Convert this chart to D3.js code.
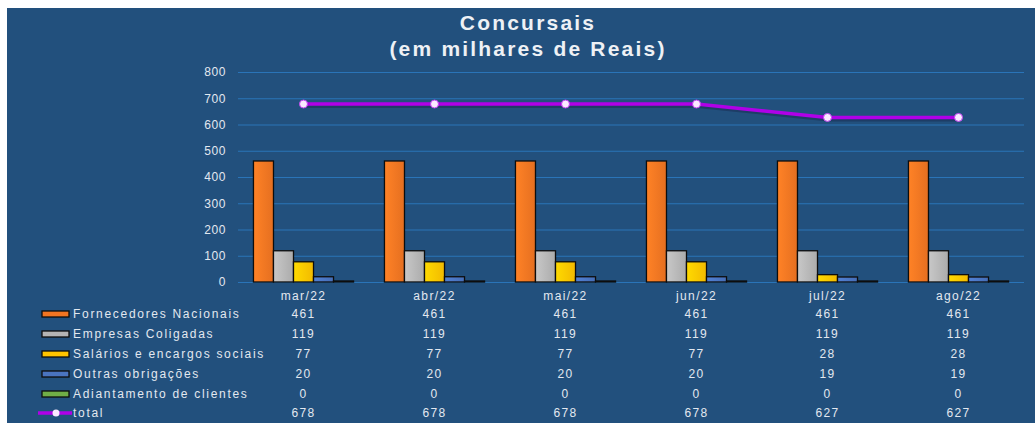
<!DOCTYPE html>
<html>
<head>
<meta charset="utf-8">
<script src="https://cdn.jsdelivr.net/npm/d3@7"></script>
<style>
    body { margin: 0; background: #fff; }
    svg { display: block; font-family: "Liberation Sans", Arial, sans-serif; }
    .grid line { stroke: #2a74b8; stroke-width: 1.2; }
    .grid path { display: none; }
    .tick text { fill: #e2e8f0; font-size: 12px; letter-spacing: 0.6px; }
    .cell { fill: #e2e8f0; font-size: 12px; letter-spacing: 1.4px; text-anchor: middle; }
    .legendText { fill: #e2e8f0; font-size: 12px; letter-spacing: 1.7px; }
</style>
</head>
<body>
<div id="chart"></div>
<script>
(function () {

    // data
    var months = ['mar/22', 'abr/22', 'mai/22', 'jun/22', 'jul/22', 'ago/22'];

    var series = ['Fornecedores Nacionais', 'Empresas Coligadas', 'Salários e encargos sociais',
        'Outras obrigações', 'Adiantamento de clientes'];

    var fornecedores = [461, 461, 461, 461, 461, 461];
    var coligadas = [119, 119, 119, 119, 119, 119];
    var salarios = [77, 77, 77, 77, 28, 28];
    var outras = [20, 20, 20, 20, 19, 19];
    var adiantamento = [0, 0, 0, 0, 0, 0];
    var total = [678, 678, 678, 678, 627, 627];

    var yTicks = [0, 100, 200, 300, 400, 500, 600, 700, 800];

    var values = [fornecedores, coligadas, salarios, outras, adiantamento];
    var colours = ['#f27522', '#b4b4b4', '#ffc400', '#4a74c0', '#70ad47'];


    var width = 1035, height = 423;
    var margin = { top: 72, right: 11, bottom: 141, left: 238 };

    var svg = d3.select('#chart')
        .append('svg')
        .attr('width', width)
        .attr('height', height);

    var defs = svg.append('defs');
    colours.forEach(function (c, i) {
        var grad = defs.append('linearGradient')
            .attr('id', 'grad' + i)
            .attr('x1', 0).attr('x2', 1).attr('y1', 0).attr('y2', 0);
        grad.append('stop').attr('offset', '0%').attr('stop-color', d3.color(c).brighter(0.3));
        grad.append('stop').attr('offset', '100%').attr('stop-color', d3.color(c).darker(0.15));
    });

    // background panel
    svg.append('rect')
        .attr('x', 7).attr('y', 8)
        .attr('width', width - 7).attr('height', height - 8)
        .attr('fill', '#22507d');

    // title
    var title = svg.append('text')
        .attr('text-anchor', 'middle')
        .style('font-size', '21px')
        .style('font-weight', 'bold')
        .style('letter-spacing', '2.2px')
        .attr('fill', '#eef1f5');
    title.append('tspan').attr('x', 528).attr('y', 30).text('Concursais');
    title.append('tspan').attr('x', 528).attr('y', 56).text('(em milhares de Reais)');

    var innerW = width - margin.left - margin.right;
    var innerH = height - margin.top - margin.bottom;

    var g = svg.append('g')
        .attr('transform', 'translate(' + margin.left + ',' + margin.top + ')');

    var xScale = d3.scaleBand()
        .domain(months)
        .range([0, innerW])
        .paddingInner(0.236)
        .paddingOuter(0.118);

    var xInner = d3.scaleBand()
        .domain(d3.range(series.length))
        .range([0, xScale.bandwidth()]);

    var xCenter = d3.scalePoint()
        .domain(months)
        .range([0, innerW])
        .padding(0.5);

    var yScale = d3.scaleLinear()
        .domain([0, 800])
        .range([innerH, 0]);

    // gridlines + y axis labels
    g.append('g')
        .attr('class', 'grid')
        .call(d3.axisLeft(yScale).tickValues(yTicks).tickSize(-innerW).tickPadding(12));

    // bars
    var groups = g.selectAll('.group')
        .data(months)
        .enter()
        .append('g')
        .attr('class', 'group')
        .attr('transform', function (d) { return 'translate(' + xScale(d) + ',0)'; });

    groups.selectAll('rect')
        .data(function (m, mi) {
            return values.map(function (v, si) { return { s: si, v: v[mi] }; });
        })
        .enter()
        .append('rect')
        .attr('x', function (d) { return xInner(d.s); })
        .attr('width', xInner.bandwidth())
        .attr('y', function (d) { return yScale(d.v) - (d.v === 0 ? 1 : 0); })
        .attr('height', function (d) { return innerH - yScale(d.v) + (d.v === 0 ? 1 : 0); })
        .attr('fill', function (d) { return 'url(#grad' + d.s + ')'; })
        .attr('stroke', '#0d0d0d')
        .attr('stroke-width', 1.3);

    // total line
    var line = d3.line()
        .x(function (d, i) { return xCenter(months[i]); })
        .y(function (d) { return yScale(d); });

    g.append('path')
        .datum(total)
        .attr('d', line)
        .attr('fill', 'none')
        .attr('stroke', '#1a2a50')
        .attr('stroke-width', 4)
        .attr('opacity', 0.5)
        .attr('transform', 'translate(1,2)');

    g.append('path')
        .datum(total)
        .attr('d', line)
        .attr('fill', 'none')
        .attr('stroke', '#b000e8')
        .attr('stroke-width', 3.5);

    g.selectAll('.dot')
        .data(total)
        .enter()
        .append('circle')
        .attr('class', 'dot')
        .attr('cx', function (d, i) { return xCenter(months[i]); })
        .attr('cy', function (d) { return yScale(d); })
        .attr('r', 4)
        .attr('fill', '#fbe9ff')
        .attr('stroke', '#c040f0')
        .attr('stroke-width', 1);

    // data table under chart
    var rowY = [296, 314, 334, 354, 374, 394, 413];

    svg.selectAll('.monthLabel')
        .data(months)
        .enter()
        .append('text')
        .attr('class', 'cell')
        .attr('x', function (d) { return margin.left + xCenter(d); })
        .attr('y', rowY[0] + 4)
        .text(function (d) { return d; });

    var rows = values.concat([total]);
    var names = series.concat(['total']);

    rows.forEach(function (r, ri) {
        var y = rowY[ri + 1];

        svg.selectAll('.row' + ri)
            .data(r)
            .enter()
            .append('text')
            .attr('class', 'cell row' + ri)
            .attr('x', function (d, i) { return margin.left + xCenter(months[i]); })
            .attr('y', y + 4)
            .text(function (d) { return d; });

        if (ri < series.length) {
            svg.append('rect')
                .attr('x', 42).attr('y', y - 3)
                .attr('width', 27).attr('height', 6)
                .attr('fill', colours[ri])
                .attr('stroke', '#0d0d0d')
                .attr('stroke-width', 1.3);
        } else {
            svg.append('line')
                .attr('x1', 38).attr('x2', 72)
                .attr('y1', y).attr('y2', y)
                .attr('stroke', '#b000e8')
                .attr('stroke-width', 3.5);
            svg.append('circle')
                .attr('cx', 56).attr('cy', y).attr('r', 3.5)
                .attr('fill', '#fbe9ff');
        }

        svg.append('text')
            .attr('class', 'legendText')
            .attr('x', 73)
            .attr('y', y + 4)
            .text(names[ri]);
    });

})();
</script>
</body>
</html>
